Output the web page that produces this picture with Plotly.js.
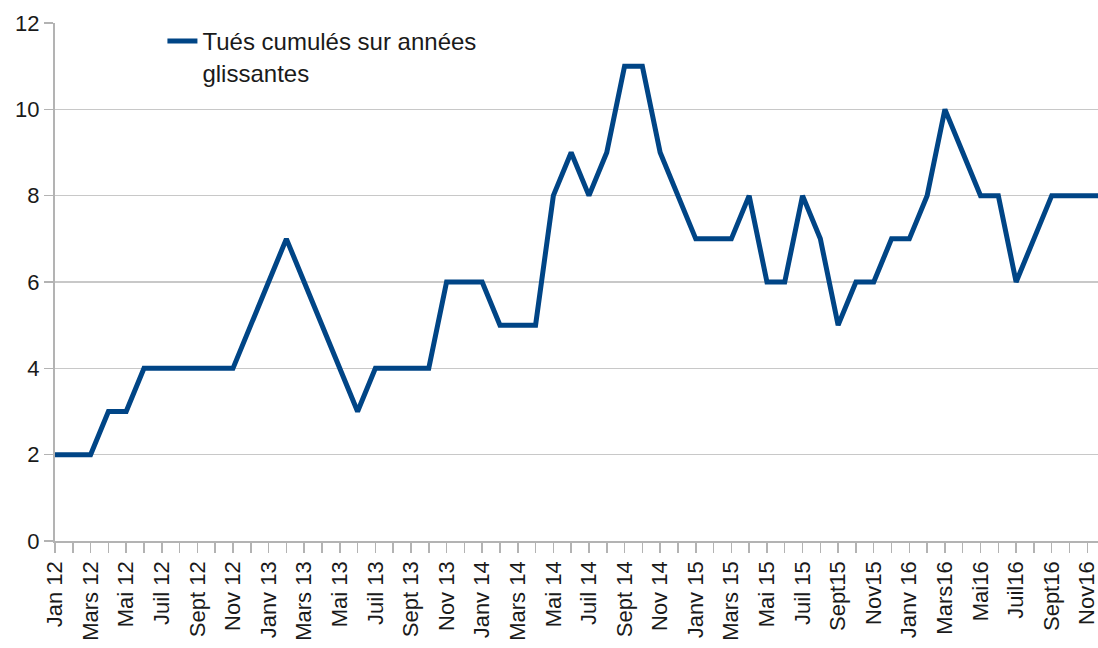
<!DOCTYPE html>
<html>
<head>
<meta charset="utf-8">
<script src="https://cdn.plot.ly/plotly-3.0.1.min.js"></script>
<style>html,body{margin:0;padding:0;background:#fff;}#chart{width:1098px;height:648px;}</style>
</head>
<body>
<div id="chart"></div>
<script>
const months = [
  "Jan 12","Févr 12","Mars 12","Avr 12","Mai 12","Juin 12","Juil 12","Août 12","Sept 12","Oct 12","Nov 12","Déc 12",
  "Janv 13","Févr 13","Mars 13","Avr 13","Mai 13","Juin 13","Juil 13","Août 13","Sept 13","Oct 13","Nov 13","Déc 13",
  "Janv 14","Févr 14","Mars 14","Avr 14","Mai 14","Juin 14","Juil 14","Août 14","Sept 14","Oct 14","Nov 14","Déc 14",
  "Janv 15","Févr 15","Mars 15","Avr 15","Mai 15","Juin 15","Juil 15","Août 15","Sept15","Oct15","Nov15","Déc15",
  "Janv 16","Févr16","Mars16","Avr16","Mai16","Juin16","Juil16","Août16","Sept16","Oct16","Nov16","Déc16"
];
const tues = [
  2,2,2,3,3,4,4,4,4,4,4,5,
  6,7,6,5,4,3,4,4,4,4,6,6,
  6,5,5,5,8,9,8,9,11,11,9,8,
  7,7,7,8,6,6,8,7,5,6,6,7,
  7,8,10,9,8,8,6,7,8,8,8,8
];
const seriesName = "Tués cumulés sur années<br>glissantes";
const yTicks = [0,2,4,6,8,10,12];
const tickText = months.map((m, i) => (i % 2 === 0 ? m : ""));

const trace = {
  x: months,
  y: tues,
  type: "scatter",
  mode: "lines",
  name: seriesName,
  line: {color: "#004586", width: 5, shape: "linear"},
  cliponaxis: true,
  hoverinfo: "x+y"
};

const font = {family: "Liberation Sans, Arial, sans-serif", color: "#1a1a1a"};

const layout = {
  width: 1098,
  height: 648,
  margin: {l: 55, r: 0, t: 23, b: 107, pad: 0},
  paper_bgcolor: "#ffffff",
  plot_bgcolor: "#ffffff",
  font: Object.assign({size: 22}, font),
  showlegend: true,
  legend: {
    x: 0.103, y: 1.008, xanchor: "left", yanchor: "top",
    bgcolor: "rgba(0,0,0,0)",
    font: Object.assign({size: 24}, font),
    valign: "top",
    tracegroupgap: 0
  },
  xaxis: {
    type: "category",
    range: [0, 58.6],
    tickmode: "array",
    tickvals: months,
    ticktext: tickText,
    tickangle: -90,
    ticks: "outside",
    ticklen: 10,
    tickwidth: 1.5,
    tickcolor: "#b3b3b3",
    showgrid: false,
    showline: true,
    linecolor: "#b3b3b3",
    linewidth: 1.5,
    zeroline: false,
    tickfont: Object.assign({size: 22}, font),
    fixedrange: true
  },
  yaxis: {
    range: [0, 12],
    tickmode: "array",
    tickvals: yTicks,
    ticks: "outside",
    ticklen: 9,
    tickwidth: 1.5,
    tickcolor: "#b3b3b3",
    showgrid: true,
    gridcolor: "#c8c8c8",
    gridwidth: 1.5,
    showline: true,
    linecolor: "#b3b3b3",
    linewidth: 2,
    zeroline: false,
    tickfont: Object.assign({size: 22}, font),
    fixedrange: true
  }
};

Plotly.newPlot("chart", [trace], layout, {displayModeBar: false, staticPlot: true});
</script>
</body>
</html>
